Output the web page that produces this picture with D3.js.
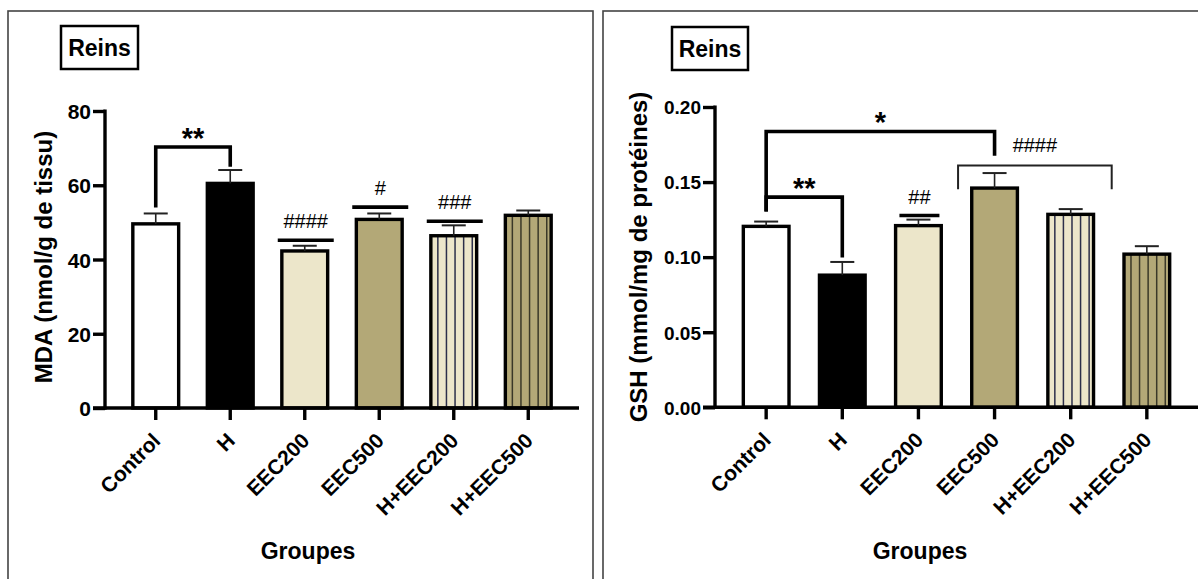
<!DOCTYPE html>
<html>
<head>
<meta charset="utf-8">
<script src="https://cdn.jsdelivr.net/npm/d3@7/dist/d3.min.js"></script>
<style>
  html, body { margin: 0; padding: 0; background: #fff; }
  svg { display: block; font-family: "Liberation Sans", Arial, sans-serif; }
</style>
</head>
<body>
<svg id="chart" width="1198" height="579"></svg>
<script>
// groups on the x axis
const groups = ["Control", "H", "EEC200", "EEC500", "H+EEC200", "H+EEC500"];

// MDA (nmol/g de tissu), mean and SEM
const mdaMean = [49.6, 60.5, 42.3, 50.8, 46.4, 51.9];
const mdaSem = [2.8, 3.6, 1.4, 1.6, 2.8, 1.3];
const mdaTicks = [0, 20, 40, 60, 80];

// GSH (mmol/mg de protéines), mean and SEM
const gshMean = [0.1205, 0.0880, 0.1210, 0.1460, 0.1285, 0.1020];
const gshSem = [0.0032, 0.0088, 0.0040, 0.0100, 0.0035, 0.0053];
const gshTicks = [0, 0.05, 0.10, 0.15, 0.20];

// significance marks (levels in data units)
const mdaBrackets = [{ a: 0, b: 1, level: 70.3, footA: 54, footB: 65, label: "**" }];
const mdaLines = [
  { i: 2, level: 45.2, label: "####" },
  { i: 3, level: 54.1, label: "#" },
  { i: 4, level: 50.3, label: "###" }
];
const gshBrackets = [
  { a: 0, b: 3, level: 0.1837, footA: 0.1304, footB: 0.1675, label: "*" },
  { a: 0, b: 1, level: 0.1400, footA: 0.1304, footB: 0.0997, label: "**" }
];
const gshLines = [{ i: 2, level: 0.1277, label: "##" }];
const gshSpans = [{ a: 3, b: 4, level: 0.1611, foot: 0.1453, label: "####" }];

// bar appearance per group
const fills = ["#ffffff", "#000000", "#ece6ca", "#b3a877", "#ece6ca", "#b3a877"];
const stripes = [null, null, null, null, "#2c2f4a", "#3a3828"];

const svg = d3.select("#chart");
const FONT = "'Liberation Sans', Arial, sans-serif";

function drawPanel(cfg) {
  const g = svg.append("g");

  // panel frame
  g.append("rect")
    .attr("x", cfg.frame[0]).attr("y", cfg.frame[1])
    .attr("width", cfg.frame[2]).attr("height", cfg.frame[3])
    .attr("fill", "none").attr("stroke", "#444").attr("stroke-width", 1.6);

  // "Reins" box
  g.append("rect")
    .attr("x", cfg.tag[0]).attr("y", cfg.tag[1])
    .attr("width", cfg.tag[2]).attr("height", cfg.tag[3])
    .attr("fill", "#fff").attr("stroke", "#000").attr("stroke-width", 2.5);
  g.append("text")
    .attr("x", cfg.tag[0] + cfg.tag[2] / 2).attr("y", cfg.tag[1] + 30)
    .attr("text-anchor", "middle")
    .style("font-size", "23px").style("font-weight", "bold")
    .text("Reins");

  const x = d3.scaleBand()
    .domain(groups)
    .range([cfg.axisX, cfg.xEnd])
    .paddingInner(cfg.padIn)
    .paddingOuter(cfg.padOut);

  const y = d3.scaleLinear()
    .domain([0, cfg.ticks[cfg.ticks.length - 1]])
    .range([cfg.axisY, cfg.yTop]);

  const bw = x.bandwidth();

  // bars
  const bars = g.append("g");
  groups.forEach((name, i) => {
    const x0 = x(name) + 1.6;
    const w = bw - 3.2;
    const top = y(cfg.mean[i]);
    bars.append("rect")
      .attr("x", x0).attr("y", top)
      .attr("width", w).attr("height", cfg.axisY - top)
      .attr("fill", fills[i]);
    if (stripes[i]) {
      d3.range(1, 6).forEach(k => {
        const sx = x(name) + k * bw / 5.7;
        bars.append("line")
          .attr("x1", sx).attr("x2", sx)
          .attr("y1", top).attr("y2", cfg.axisY)
          .attr("stroke", stripes[i]).attr("stroke-width", 1.5);
      });
    }
    bars.append("rect")
      .attr("x", x0).attr("y", top)
      .attr("width", w).attr("height", cfg.axisY - top)
      .attr("fill", "none").attr("stroke", "#000").attr("stroke-width", 3.4);

    // error bar (upper only)
    const cx = x(name) + bw / 2;
    const et = y(cfg.mean[i] + cfg.sem[i]);
    bars.append("line")
      .attr("x1", cx).attr("x2", cx).attr("y1", top).attr("y2", et)
      .attr("stroke", "#222").attr("stroke-width", 1.6);
    bars.append("line")
      .attr("x1", cx - 12).attr("x2", cx + 12).attr("y1", et).attr("y2", et)
      .attr("stroke", "#222").attr("stroke-width", 2);
  });

  // y axis
  const yAxis = g.append("g")
    .attr("transform", `translate(${cfg.axisX},0)`)
    .call(d3.axisLeft(y).tickValues(cfg.ticks).tickFormat(cfg.fmt).tickSize(12).tickSizeOuter(0));
  yAxis.select(".domain").attr("stroke-width", 3.4)
    .attr("d", `M0,${cfg.axisY + 1.7}V${cfg.yTop - 1.5}`);
  yAxis.selectAll(".tick line").attr("stroke-width", 3.4);
  yAxis.selectAll(".tick text")
    .attr("x", -14).attr("dy", "0.36em")
    .style("font-size", cfg.tickFont + "px").style("font-weight", "bold")
    .style("font-family", FONT).attr("fill", "#000");

  // x axis
  const xAxis = g.append("g")
    .attr("transform", `translate(0,${cfg.axisY})`)
    .call(d3.axisBottom(x).tickSize(12).tickSizeOuter(0));
  xAxis.select(".domain").attr("stroke-width", 3.4)
    .attr("d", `M${cfg.axisX - 12},0H${cfg.xEnd}`);
  xAxis.selectAll(".tick line").attr("stroke-width", 3.4);
  xAxis.selectAll(".tick text")
    .attr("x", 0).attr("y", 0).attr("dy", 0)
    .attr("text-anchor", "end")
    .attr("transform", "translate(6,34) rotate(-45)")
    .style("font-size", "21px").style("font-weight", "bold")
    .style("font-family", FONT).attr("fill", "#000");

  // axis titles
  g.append("text")
    .attr("transform", `translate(${cfg.ylabX},${cfg.ylabY}) rotate(-90)`)
    .attr("text-anchor", "middle")
    .style("font-size", cfg.ylabFont + "px").style("font-weight", "bold")
    .text(cfg.ylabel);
  g.append("text")
    .attr("x", cfg.xlabX).attr("y", 559)
    .attr("text-anchor", "middle")
    .style("font-size", "23px").style("font-weight", "bold")
    .text("Groupes");

  // significance brackets
  const mid = i => x(groups[i]) + bw / 2;
  cfg.brackets.forEach(b => {
    const xa = mid(b.a), xb = mid(b.b), ly = y(b.level);
    g.append("path")
      .attr("d", `M${xa},${y(b.footA)}V${ly}H${xb}V${y(b.footB)}`)
      .attr("fill", "none").attr("stroke", "#000").attr("stroke-width", 3.6);
    g.append("text")
      .attr("x", (xa + xb) / 2).attr("y", ly + 1)
      .attr("text-anchor", "middle")
      .style("font-size", "29px").style("font-weight", "bold")
      .text(b.label);
  });
  cfg.lines.forEach(l => {
    const cx = mid(l.i) + 1, ly = y(l.level);
    g.append("line")
      .attr("x1", cx - cfg.lineHalf).attr("x2", cx + cfg.lineHalf)
      .attr("y1", ly).attr("y2", ly)
      .attr("stroke", "#000").attr("stroke-width", 3.6);
    g.append("text")
      .attr("x", cx).attr("y", ly - 12)
      .attr("text-anchor", "middle")
      .style("font-size", "20px")
      .text(l.label);
  });
  cfg.spans.forEach(s => {
    const xa = mid(s.a) - 36.5, xb = mid(s.b) + 41, ly = y(s.level);
    g.append("path")
      .attr("d", `M${xa},${y(s.foot)}V${ly}H${xb}V${y(s.foot)}`)
      .attr("fill", "none").attr("stroke", "#222").attr("stroke-width", 2);
    g.append("text")
      .attr("x", (xa + xb) / 2).attr("y", ly - 13)
      .attr("text-anchor", "middle")
      .style("font-size", "20px")
      .text(s.label);
  });
}

drawPanel({
  frame: [8, 11, 585, 600],
  tag: [61, 26, 77, 43],
  axisX: 105, xEnd: 579, axisY: 408, yTop: 111,
  padIn: 0.342, padOut: 0.352,
  ticks: mdaTicks, fmt: d3.format("d"), tickFont: 21,
  mean: mdaMean, sem: mdaSem,
  ylabel: "MDA (nmol/g de tissu)", ylabX: 52, ylabY: 257, ylabFont: 24,
  xlabX: 308,
  brackets: mdaBrackets, lines: mdaLines, spans: [], lineHalf: 28
});

drawPanel({
  frame: [603, 11, 620, 600],
  tag: [672, 27, 76, 43],
  axisX: 715, xEnd: 1198, axisY: 407.3, yTop: 107,
  padIn: 0.358, padOut: 0.351,
  ticks: gshTicks, fmt: d3.format(".2f"), tickFont: 19,
  mean: gshMean, sem: gshSem,
  ylabel: "GSH (mmol/mg de protéines)", ylabX: 647, ylabY: 257, ylabFont: 24,
  xlabX: 920,
  brackets: gshBrackets, lines: gshLines, spans: gshSpans, lineHalf: 20
});
</script>
</body>
</html>
